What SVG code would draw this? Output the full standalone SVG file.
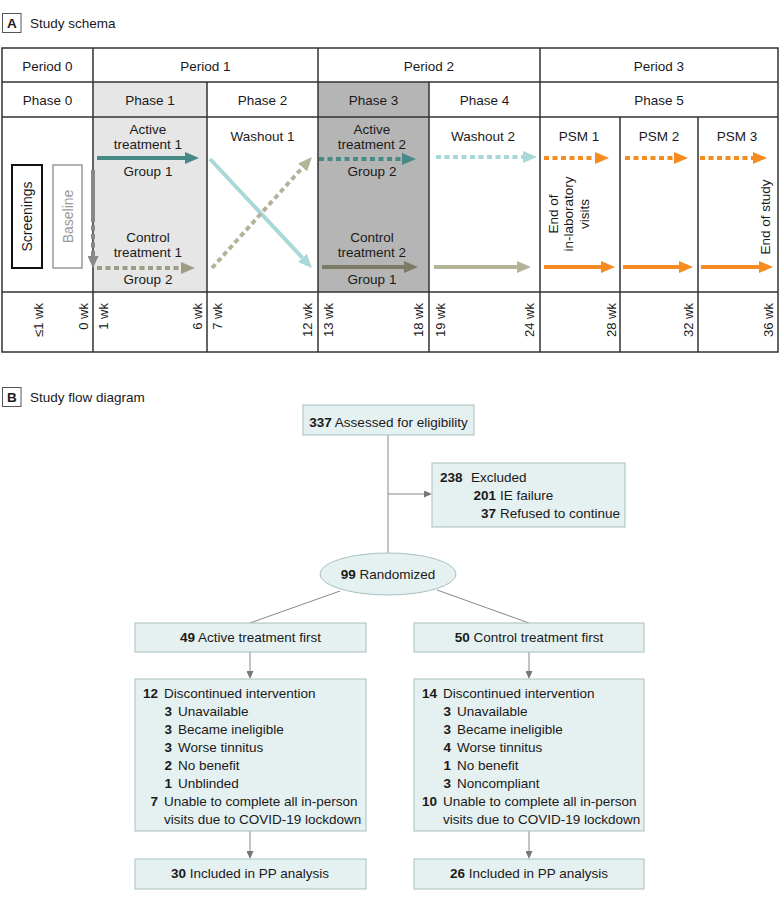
<svg xmlns="http://www.w3.org/2000/svg" width="780" height="904" viewBox="0 0 780 904">
<style>
text{font-family:"Liberation Sans",Arial,sans-serif;fill:#1a1a1a}
.t{font-size:13.5px}
.c{text-anchor:middle}
.e{text-anchor:end}
.b{font-weight:bold}
.grid{stroke:#333;stroke-width:1.5;fill:none}
.box{fill:#e5f0f0;stroke:#a9bfbf;stroke-width:1}
.fl{stroke:#888;stroke-width:1;fill:none}
.ar{stroke-width:4;fill:none}
.dt{stroke-dasharray:5 3.5}
</style>
<defs>
<marker id="mTeal" markerUnits="userSpaceOnUse" markerWidth="14" markerHeight="12" viewBox="0 0 14 12" refX="0" refY="6" orient="auto"><path d="M0,0 L14,6 L0,12 z" fill="#468987"/></marker>
<marker id="mLTeal" markerUnits="userSpaceOnUse" markerWidth="14" markerHeight="12" viewBox="0 0 14 12" refX="0" refY="6" orient="auto"><path d="M0,0 L14,6 L0,12 z" fill="#a9d8d8"/></marker>
<marker id="mOlive" markerUnits="userSpaceOnUse" markerWidth="14" markerHeight="12" viewBox="0 0 14 12" refX="0" refY="6" orient="auto"><path d="M0,0 L14,6 L0,12 z" fill="#9d9d85"/></marker>
<marker id="mOliveL" markerUnits="userSpaceOnUse" markerWidth="14" markerHeight="12" viewBox="0 0 14 12" refX="0" refY="6" orient="auto"><path d="M0,0 L14,6 L0,12 z" fill="#b3b398"/></marker>
<marker id="mOliveD" markerUnits="userSpaceOnUse" markerWidth="14" markerHeight="12" viewBox="0 0 14 12" refX="0" refY="6" orient="auto"><path d="M0,0 L14,6 L0,12 z" fill="#7b7b66"/></marker>
<marker id="mOrange" markerUnits="userSpaceOnUse" markerWidth="14" markerHeight="12" viewBox="0 0 14 12" refX="0" refY="6" orient="auto"><path d="M0,0 L14,6 L0,12 z" fill="#f68b1f"/></marker>
<marker id="mGray" markerUnits="userSpaceOnUse" markerWidth="12" markerHeight="11" viewBox="0 0 12 11" refX="0" refY="5.5" orient="auto"><path d="M0,0 L12,5.5 L0,11 z" fill="#888"/></marker>
<marker id="mFlow" markerUnits="userSpaceOnUse" markerWidth="8" markerHeight="7" viewBox="0 0 8 7" refX="0" refY="3.5" orient="auto"><path d="M0,0 L8,3.5 L0,7 z" fill="#777"/></marker>
</defs>

<!-- Section A header -->
<g id="headerA">
<rect x="2.5" y="13.5" width="18.5" height="19" fill="#fff" stroke="#555" stroke-width="1"/>
<text class="t b c" x="11.8" y="28">A</text>
<text class="t" x="30" y="28">Study schema</text>
</g>

<!-- Table -->
<g id="table">
<rect x="93" y="82" width="114" height="210" fill="#e6e6e6"/>
<rect x="318" y="82" width="111" height="210" fill="#b5b5b5"/>
<rect class="grid" x="2" y="48" width="776" height="304"/>
<path class="grid" d="M2,82H778 M2,117H778 M2,292H778 M93,48V352 M207,82V352 M318,48V352 M429,82V352 M540,48V352 M620,117V352 M698,117V352"/>
<text class="t c" x="47.5" y="71">Period 0</text>
<text class="t c" x="205.5" y="71">Period 1</text>
<text class="t c" x="429" y="71">Period 2</text>
<text class="t c" x="659" y="71">Period 3</text>
<text class="t c" x="47.5" y="105">Phase 0</text>
<text class="t c" x="150" y="105">Phase 1</text>
<text class="t c" x="262.5" y="105">Phase 2</text>
<text class="t c" x="373.5" y="105">Phase 3</text>
<text class="t c" x="484.5" y="105">Phase 4</text>
<text class="t c" x="659" y="105">Phase 5</text>
</g>

<g id="screenings">
<rect x="12" y="165" width="30" height="103" fill="#fff" stroke="#111" stroke-width="2"/>
<text class="t c" style="font-size:14px" transform="translate(32,216.5) rotate(-90)">Screenings</text>
</g>
<g id="baseline">
<rect x="53" y="165" width="29" height="103" fill="#fff" stroke="#999" stroke-width="1.5"/>
<text class="t c" style="font-size:14px;fill:#999" transform="translate(73,216.5) rotate(-90)">Baseline</text>
</g>

<g id="phase-labels" style="font-size:13.5px">
<text class="c" x="148" y="134">Active</text>
<text class="c" x="148" y="149">treatment 1</text>
<text class="c" x="148" y="176">Group 1</text>
<text class="c" x="148" y="242">Control</text>
<text class="c" x="148" y="257">treatment 1</text>
<text class="c" x="148" y="284">Group 2</text>
<text class="c" x="262.5" y="141">Washout 1</text>
<text class="c" x="372" y="134">Active</text>
<text class="c" x="372" y="149">treatment 2</text>
<text class="c" x="372" y="176">Group 2</text>
<text class="c" x="372" y="242">Control</text>
<text class="c" x="372" y="257">treatment 2</text>
<text class="c" x="372" y="284">Group 1</text>
<text class="c" x="483" y="141">Washout 2</text>
<text class="c" x="579" y="141">PSM 1</text>
<text class="c" x="659" y="141">PSM 2</text>
<text class="c" x="737" y="141">PSM 3</text>
<text class="c" transform="translate(558,214) rotate(-90)">End of</text>
<text class="c" transform="translate(573,214) rotate(-90)">in-laboratory</text>
<text class="c" transform="translate(589,214) rotate(-90)">visits</text>
<text class="c" transform="translate(770,217) rotate(-90)">End of study</text>
</g>

<g id="weeks" style="font-size:13px">
<text class="e" transform="translate(43,303) rotate(-90)">≤1 wk</text>
<text class="e" transform="translate(88,303) rotate(-90)">0 wk</text>
<text class="e" transform="translate(108,303) rotate(-90)">1 wk</text>
<text class="e" transform="translate(202,303) rotate(-90)">6 wk</text>
<text class="e" transform="translate(222,303) rotate(-90)">7 wk</text>
<text class="e" transform="translate(312,303) rotate(-90)">12 wk</text>
<text class="e" transform="translate(333,303) rotate(-90)">13 wk</text>
<text class="e" transform="translate(423,303) rotate(-90)">18 wk</text>
<text class="e" transform="translate(445,303) rotate(-90)">19 wk</text>
<text class="e" transform="translate(534,303) rotate(-90)">24 wk</text>
<text class="e" transform="translate(616,303) rotate(-90)">28 wk</text>
<text class="e" transform="translate(693,303) rotate(-90)">32 wk</text>
<text class="e" transform="translate(773,303) rotate(-90)">36 wk</text>
</g>

<g id="schema-connectors">
<line class="ar" x1="93" y1="170" x2="93" y2="217" stroke="#888"/>
<line class="ar dt" x1="93" y1="217" x2="93" y2="256" stroke="#888" marker-end="url(#mGray)"/>
<line class="ar" x1="97" y1="158" x2="185" y2="158" stroke="#468987" stroke-width="4.5" marker-end="url(#mTeal)"/>
<line class="ar dt" x1="97" y1="268" x2="181" y2="268" stroke="#9d9d85" marker-end="url(#mOlive)"/>
<line class="ar" x1="210" y1="159" x2="302.4" y2="257.8" stroke="#a9d8d8" marker-end="url(#mLTeal)"/>
<line class="ar dt" x1="212" y1="268" x2="302.6" y2="167.4" stroke="#b3b398" marker-end="url(#mOliveL)"/>
<line class="ar dt" x1="319" y1="159" x2="402" y2="159" stroke="#468987" marker-end="url(#mTeal)"/>
<line class="ar" x1="322" y1="267" x2="404" y2="267" stroke="#7b7b66" stroke-width="4.5" marker-end="url(#mOliveD)"/>
<line class="ar dt" x1="436" y1="157" x2="523" y2="157" stroke="#a9d8d8" marker-end="url(#mLTeal)"/>
<line class="ar" x1="434" y1="267" x2="517" y2="267" stroke="#b3b398" marker-end="url(#mOliveL)"/>
<line class="ar dt" x1="544" y1="158" x2="595" y2="158" stroke="#f68b1f" marker-end="url(#mOrange)"/>
<line class="ar dt" x1="625" y1="158" x2="674" y2="158" stroke="#f68b1f" marker-end="url(#mOrange)"/>
<line class="ar dt" x1="700" y1="158" x2="753" y2="158" stroke="#f68b1f" marker-end="url(#mOrange)"/>
<line class="ar" x1="544" y1="267" x2="601" y2="267" stroke="#f68b1f" marker-end="url(#mOrange)"/>
<line class="ar" x1="623" y1="267" x2="679" y2="267" stroke="#f68b1f" marker-end="url(#mOrange)"/>
<line class="ar" x1="701" y1="267" x2="759" y2="267" stroke="#f68b1f" marker-end="url(#mOrange)"/>
</g>

<!-- Section B header -->
<g id="headerB">
<rect x="2.5" y="387.5" width="18.5" height="19" fill="#fff" stroke="#555" stroke-width="1"/>
<text class="t b c" x="11.8" y="402">B</text>
<text class="t" x="30" y="402">Study flow diagram</text>
</g>

<g id="flow-connectors">
<line class="fl" x1="388" y1="435" x2="388" y2="553"/>
<line class="fl" x1="388" y1="494" x2="424" y2="494" marker-end="url(#mFlow)"/>
<line class="fl" x1="340" y1="591" x2="250" y2="623"/>
<line class="fl" x1="437" y1="590" x2="529" y2="623"/>
<line class="fl" x1="250" y1="652" x2="250" y2="671" marker-end="url(#mFlow)"/>
<line class="fl" x1="529" y1="652" x2="529" y2="671" marker-end="url(#mFlow)"/>
<line class="fl" x1="250" y1="831" x2="250" y2="851" marker-end="url(#mFlow)"/>
<line class="fl" x1="529" y1="831" x2="529" y2="851" marker-end="url(#mFlow)"/>
</g>

<g id="assessed">
<rect class="box" x="303" y="405" width="171" height="30"/>
<text class="t c" x="388.5" y="427"><tspan class="b">337</tspan> Assessed for eligibility</text>
</g>
<g id="excluded">
<rect class="box" x="432" y="463" width="193" height="64"/>
<text class="t b" x="440" y="482">238</text><text class="t" x="471" y="482">Excluded</text>
<text class="t b e" x="496" y="500">201</text><text class="t" x="500" y="500">IE failure</text>
<text class="t b e" x="496" y="518">37</text><text class="t" x="500" y="518">Refused to continue</text>
</g>
<g id="randomized">
<ellipse cx="388" cy="574" rx="68" ry="21" fill="#e5f0f0" stroke="#a9bfbf" stroke-width="1"/>
<text class="t c" x="388" y="579"><tspan class="b">99</tspan> Randomized</text>
</g>
<g id="active-first">
<rect class="box" x="135" y="623" width="231" height="29"/>
<text class="t c" x="250.5" y="642"><tspan class="b">49</tspan> Active treatment first</text>
</g>
<g id="control-first">
<rect class="box" x="414" y="623" width="230" height="29"/>
<text class="t c" x="529" y="642"><tspan class="b">50</tspan> Control treatment first</text>
</g>
<g id="disc-left">
<rect class="box" x="135" y="679" width="231" height="152"/>
<text class="t b e" x="158" y="698">12</text><text class="t" x="164" y="698">Discontinued intervention</text>
<text class="t b e" x="172" y="716">3</text><text class="t" x="178" y="716">Unavailable</text>
<text class="t b e" x="172" y="734">3</text><text class="t" x="178" y="734">Became ineligible</text>
<text class="t b e" x="172" y="752">3</text><text class="t" x="178" y="752">Worse tinnitus</text>
<text class="t b e" x="172" y="770">2</text><text class="t" x="178" y="770">No  benefit</text>
<text class="t b e" x="172" y="788">1</text><text class="t" x="178" y="788">Unblinded</text>
<text class="t b e" x="158" y="806">7</text><text class="t" x="164" y="806">Unable to complete all in-person</text>
<text class="t" x="164" y="824">visits due to COVID-19 lockdown</text>
</g>
<g id="disc-right">
<rect class="box" x="414" y="679" width="230" height="152"/>
<text class="t b e" x="437" y="698">14</text><text class="t" x="443" y="698">Discontinued intervention</text>
<text class="t b e" x="451" y="716">3</text><text class="t" x="457" y="716">Unavailable</text>
<text class="t b e" x="451" y="734">3</text><text class="t" x="457" y="734">Became ineligible</text>
<text class="t b e" x="451" y="752">4</text><text class="t" x="457" y="752">Worse tinnitus</text>
<text class="t b e" x="451" y="770">1</text><text class="t" x="457" y="770">No benefit</text>
<text class="t b e" x="451" y="788">3</text><text class="t" x="457" y="788">Noncompliant</text>
<text class="t b e" x="437" y="806">10</text><text class="t" x="443" y="806">Unable to complete all in-person</text>
<text class="t" x="443" y="824">visits due to COVID-19 lockdown</text>
</g>
<g id="pp-left">
<rect class="box" x="135" y="859" width="231" height="30"/>
<text class="t c" x="250" y="878"><tspan class="b">30</tspan> Included in PP analysis</text>
</g>
<g id="pp-right">
<rect class="box" x="414" y="859" width="230" height="30"/>
<text class="t c" x="529" y="878"><tspan class="b">26</tspan> Included in PP analysis</text>
</g>
</svg>
